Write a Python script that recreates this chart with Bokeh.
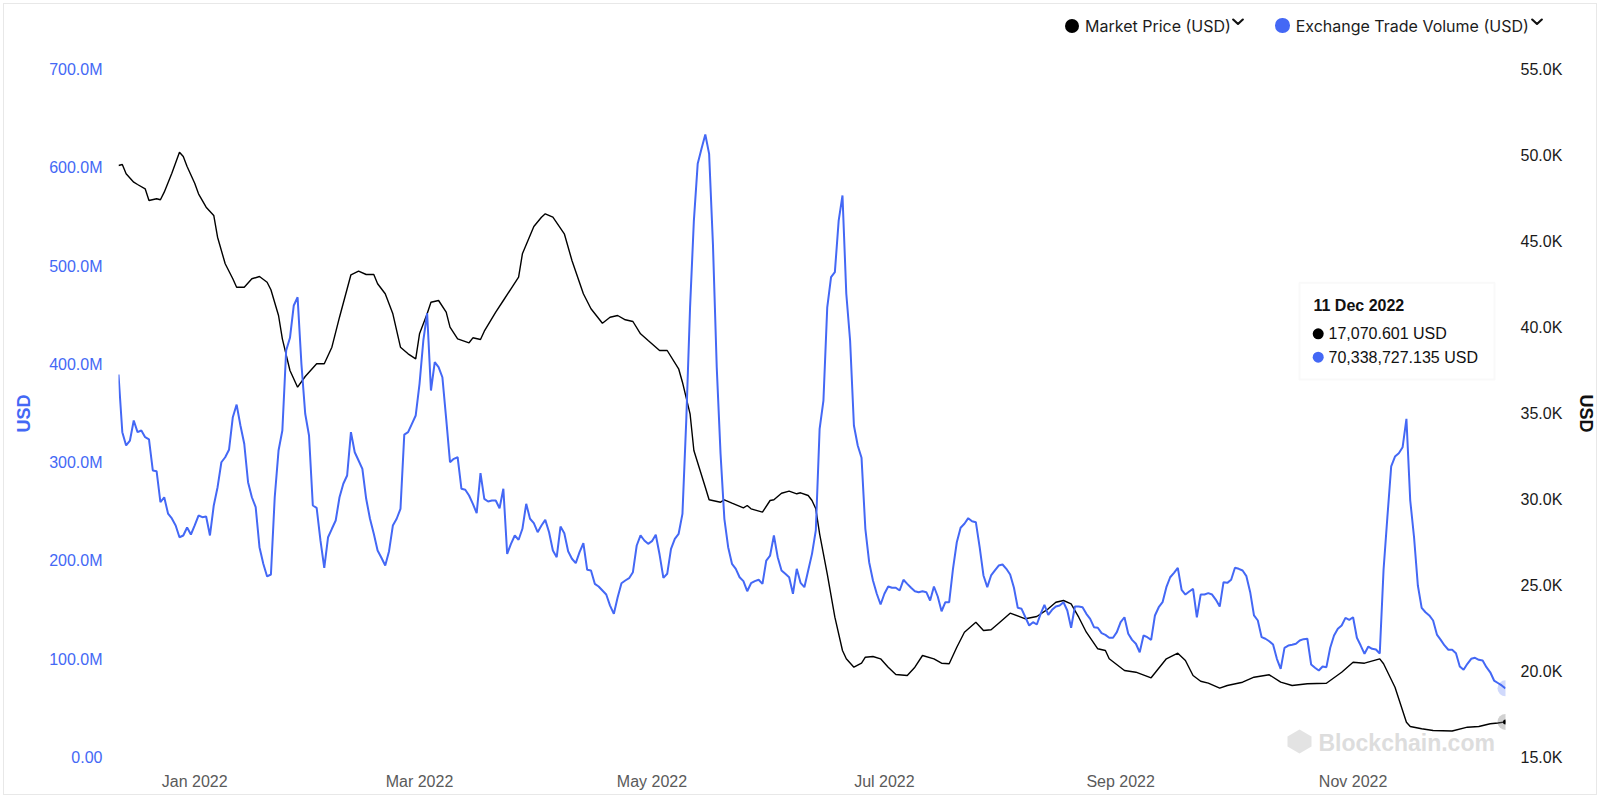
import math
import pandas as pd
from bokeh.plotting import figure
from bokeh.layouts import column
from bokeh.models import (Range1d, LinearAxis, FixedTicker, Label, BoxAnnotation,
                          PolyAnnotation, Div)
from bokeh.embed import file_html
from bokeh.resources import INLINE

# ---------------- data ----------------
start_date = "2021-12-12"

# Exchange Trade Volume (USD), millions, one value per day from start_date
volume_musd = [
    389.7, 331.0, 317.5, 322.5, 342.9, 331.0, 332.7, 325.9, 323.6, 292.1,
    291.3, 259.7, 264.8, 248.2, 243.2, 236.1, 224.1, 225.9, 234.0, 226.9,
    236.1, 246.2, 244.5, 245.2, 225.9, 256.4, 275.0, 300.4, 305.5, 313.1,
    346.2, 359.1, 337.8, 319.2, 280.1, 264.8, 254.7, 214.0, 197.1, 184.2,
    186.2, 264.8, 312.3, 332.7, 414.1, 427.0, 459.9, 468.3, 400.6, 349.7,
    327.6, 256.4, 254.0, 220.8, 193.0, 224.1, 232.7, 241.1, 264.8, 278.5,
    286.9, 331.0, 310.6, 302.2, 293.7, 263.2, 242.9, 227.6, 210.6, 203.2,
    195.3, 209.9, 236.0, 242.9, 253.0, 328.6, 331.0, 339.5, 348.0, 380.2,
    424.3, 452.0, 373.4, 402.2, 397.1, 386.9, 344.6, 300.4, 303.9, 305.5,
    273.4, 272.4, 266.6, 258.1, 248.6, 289.3, 263.2, 260.5, 261.5, 261.5,
    253.6, 273.4, 207.2, 217.4, 225.9, 221.5, 232.7, 258.1, 242.9, 238.4,
    229.2, 236.0, 241.8, 229.2, 210.6, 203.8, 235.0, 228.2, 209.9, 202.2,
    197.7, 208.9, 218.0, 191.0, 190.3, 176.7, 174.0, 169.9, 165.8, 154.6,
    146.2, 163.1, 177.3, 180.1, 182.4, 188.5, 215.7, 225.9, 220.8, 217.4,
    220.1, 226.6, 206.5, 182.8, 186.9, 212.3, 222.5, 227.6, 247.9, 342.9,
    458.1, 546.3, 604.0, 619.3, 633.8, 614.2, 522.6, 397.1, 309.0, 242.9,
    214.0, 197.1, 192.0, 183.4, 179.4, 169.2, 177.3, 179.4, 180.8, 176.7,
    200.4, 205.5, 225.9, 203.8, 190.3, 186.9, 183.4, 166.6, 192.0, 177.7,
    173.3, 190.3, 207.2, 231.0, 334.4, 363.2, 458.1, 488.7, 493.8, 546.3,
    571.8, 471.8, 424.3, 337.8, 317.4, 304.9, 232.7, 198.7, 180.1, 166.6,
    155.7, 166.6, 174.0, 172.7, 172.7, 169.9, 180.8, 176.7, 172.7, 169.2,
    168.2, 169.2, 168.2, 159.7, 174.0, 163.8, 148.8, 158.0, 158.0, 192.0,
    219.0, 233.7, 237.8, 243.5, 240.4, 239.4, 214.0, 185.2, 173.3, 185.2,
    190.3, 195.3, 196.4, 192.0, 186.2, 172.7, 152.3, 151.3, 142.7, 134.3,
    137.7, 135.3, 146.2, 155.4, 145.2, 150.3, 153.6, 154.6, 158.0, 149.6,
    132.0, 153.6, 153.6, 152.9, 146.2, 141.1, 132.6, 132.0, 126.5, 124.8,
    121.8, 121.8, 127.5, 137.7, 142.7, 125.9, 119.7, 115.7, 107.1, 124.1,
    122.4, 119.7, 144.5, 152.9, 158.0, 173.3, 183.4, 187.9, 193.0, 170.6,
    165.8, 168.9, 171.6, 142.7, 165.8, 165.8, 167.2, 165.8, 160.4, 153.6,
    178.4, 177.7, 180.8, 193.0, 192.0, 190.3, 184.5, 168.2, 144.5, 139.4,
    122.4, 120.8, 118.3, 115.0, 100.4, 90.2, 111.6, 113.9, 114.7, 115.7,
    119.0, 120.4, 120.8, 94.6, 91.3, 88.5, 92.6, 91.9, 111.6, 124.1,
    130.9, 134.3, 142.1, 140.1, 142.7, 121.8, 113.9, 105.5, 112.9, 110.6,
    109.9, 105.8, 191.3, 244.5, 296.1, 306.2, 309.6, 315.7, 344.6, 261.5,
    224.1, 175.0, 152.3, 147.8, 144.5, 139.4, 125.1, 119.7, 114.0, 109.6,
    109.6, 106.1, 92.6, 89.2, 95.3, 100.4, 101.4, 99.4, 98.7, 91.9,
    86.7, 78.3, 75.8, 73.3, 70.338727135,
]

# Market Price (USD): day offset from start_date and value
price_day = [
    0, 1, 2, 4, 5, 7, 8, 10, 11, 12, 14, 16, 17, 18, 20, 21, 23, 25, 26, 28,
    30, 31, 33, 35, 37, 39, 40, 42, 43, 45, 47, 49, 52, 54, 56, 58, 61, 63, 65, 67,
    68, 70, 72, 74, 76, 78, 79, 81, 82, 84, 86, 87, 89, 92, 93, 95, 96, 99, 101, 103,
    105, 106, 109, 111, 112, 114, 117, 119, 122, 124, 127, 129, 131, 133, 135, 137, 139, 142, 144, 147,
    148, 150, 151, 154, 155, 158, 159, 161, 164, 165, 166, 169, 171, 172, 174, 176, 178, 179, 181, 182,
    183, 184, 186, 188, 190, 191, 193, 195, 196, 198, 200, 202, 204, 207, 209, 211, 214, 216, 218, 220,
    222, 225, 227, 229, 231, 234, 238, 241, 244, 246, 248, 250, 252, 254, 257, 259, 260, 264, 267, 271,
    275, 278, 280, 282, 284, 286, 289, 291, 295, 298, 302, 305, 308, 312, 317, 321, 324, 327, 331, 332,
    335, 338, 339, 342, 345, 350, 354, 357, 360, 362, 364,
]
price_usd = [
    49419, 49477, 48936, 48448, 48314, 48064, 47384, 47483, 47425, 47867,
    48971, 50192, 49942, 49361, 48390, 47774, 46995, 46512, 45250, 43704,
    42832, 42343, 42343, 42832, 42965, 42634, 42192, 40698, 39343, 37500,
    36529, 37151, 37890, 37890, 38855, 40599, 43064, 43273, 43082, 43082,
    42541, 41960, 40797, 38855, 38471, 38180, 39634, 40797, 41471, 41570,
    40890, 40018, 39343, 39111, 39401, 39303, 39785, 40890, 41570, 42250,
    42925, 44285, 45872, 46413, 46611, 46413, 45448, 43896, 41960, 41087,
    40250, 40599, 40698, 40448, 40349, 39634, 39244, 38663, 38663, 37599,
    36820, 34983, 32849, 30715, 29983, 29843, 29983, 29785, 29518, 29651,
    29459, 29262, 29942, 29983, 30366, 30483, 30332, 30390, 30233, 29942,
    29459, 28006, 25680, 23157, 21221, 20738, 20250, 20483, 20831, 20872,
    20738, 20250, 19826, 19767, 20250, 20930, 20738, 20483, 20448, 21413,
    22285, 22866, 22384, 22424, 22808, 23390, 23064, 23198, 23645, 24029,
    24128, 23936, 23157, 22285, 21320, 21221, 20738, 20058, 19959, 19634,
    20738, 21064, 20640, 19767, 19436, 19320, 19029, 19186, 19378, 19669,
    19808, 19378, 19186, 19285, 19320, 19959, 20541, 20483, 20738, 20448,
    19087, 17052, 16802, 16669, 16570, 16540, 16762, 16802, 16959, 17006,
    17070.601,
]

series_names = ["Market Price (USD)", "Exchange Trade Volume (USD)"]
x_tick_dates = ["2022-01-01", "2022-03-01", "2022-05-01", "2022-07-01", "2022-09-01", "2022-11-01"]
x_tick_labels = ["Jan 2022", "Mar 2022", "May 2022", "Jul 2022", "Sep 2022", "Nov 2022"]
volume_ticks = [0, 100_000_000, 200_000_000, 300_000_000, 400_000_000, 500_000_000, 600_000_000, 700_000_000]
volume_tick_labels = ["0.00", "100.0M", "200.0M", "300.0M", "400.0M", "500.0M", "600.0M", "700.0M"]
price_ticks = [15000, 20000, 25000, 30000, 35000, 40000, 45000, 50000, 55000]
price_tick_labels = ["15.0K", "20.0K", "25.0K", "30.0K", "35.0K", "40.0K", "45.0K", "50.0K", "55.0K"]
axis_title = "USD"
watermark = "Blockchain.com"

# ---------------- derived ----------------
t0 = pd.Timestamp(start_date)
vol_dates = [t0 + pd.Timedelta(days=i) for i in range(len(volume_musd))]
vol_usd = [v * 1e6 for v in volume_musd]
price_dates = [t0 + pd.Timedelta(days=d) for d in price_day]

BLUE = "#4468F5"
BLACK = "#000000"

# page geometry (page px)
W = 1600
LEG_H = 50                 # top strip holding the series legend
MAIN_H = 798 - LEG_H
FL, FR = 118, 1505         # frame left / right
FT, FB = 69, 757           # frame top / bottom (page rows)

# ---------- legend strip (HTML, positioned in page px) ----------
LEG_Y = 25.7


def leg_dot(cx, d, color):
    return (f'<span style="position:absolute;left:{cx - d / 2:.1f}px;top:{LEG_Y - d / 2:.1f}px;'
            f'width:{d}px;height:{d}px;border-radius:50%;background:{color};"></span>')


def leg_text(x, s):
    return (f'<span style="position:absolute;left:{x}px;top:{LEG_Y - 10:.1f}px;line-height:20px;'
            f'white-space:nowrap;font-family:Inter,sans-serif;font-size:16px;color:#1c1c1c;">{s}</span>')


def leg_chevron(cx, cy):
    return (f'<svg style="position:absolute;left:{cx - 6:.1f}px;top:{cy - 4:.1f}px;" width="12" height="8" '
            f'viewBox="0 0 12 8"><path d="M1.2 1.5 L6 6 L10.8 1.5" stroke="#111" stroke-width="2.1" '
            f'fill="none" stroke-linecap="round" stroke-linejoin="round"/></svg>')


leg_html = (f'<div style="position:relative;width:{W}px;height:{LEG_H}px;">'
            + leg_dot(1071.7, 14, BLACK) + leg_text(1085, series_names[0]) + leg_chevron(1238, 22)
            + leg_dot(1282.3, 14.5, BLUE) + leg_text(1295.7, series_names[1]) + leg_chevron(1536.5, 22)
            + '</div>')
leg = Div(text=leg_html, width=W, height=LEG_H, margin=0,
          styles={"padding": "0", "margin": "0", "overflow": "visible"})

# ---------- main chart ----------
p = figure(width=W, height=MAIN_H, x_axis_type="datetime", output_backend="svg",
           toolbar_location=None, min_border_left=FL, min_border_right=W - FR,
           min_border_top=FT - LEG_H, min_border_bottom=798 - FB,
           x_range=Range1d(vol_dates[0], vol_dates[-1]),
           y_range=Range1d(volume_ticks[0], volume_ticks[-1]))
p.extra_y_ranges = {"price": Range1d(price_ticks[0], price_ticks[-1])}
p.outline_line_color = None
p.background_fill_color = None
p.border_fill_color = None
p.xgrid.visible = False
p.ygrid.visible = False

# lines
p.line(price_dates, price_usd, y_range_name="price", line_color=BLACK, line_width=1.4)
p.line(vol_dates, vol_usd, line_color=BLUE, line_width=2)

# end-point markers
p.scatter([vol_dates[-1]], [vol_usd[-1]], size=16, fill_color=BLUE, fill_alpha=0.25, line_color=None)
p.scatter([price_dates[-1]], [price_usd[-1]], y_range_name="price", size=16,
          fill_color="#7a7a7a", fill_alpha=0.35, line_color=None)
p.scatter([price_dates[-1]], [price_usd[-1]], y_range_name="price", size=5,
          fill_color=BLACK, line_color=None)


# axes
def style_axis(ax, color, size="16px"):
    ax.axis_line_color = None
    ax.major_tick_line_color = None
    ax.minor_tick_line_color = None
    ax.major_tick_out = 0
    ax.major_tick_in = 0
    ax.minor_tick_out = 0
    ax.minor_tick_in = 0
    ax.major_label_text_font = "Liberation Sans"
    ax.major_label_text_font_size = size
    ax.major_label_text_color = color


xa = p.xaxis[0]
style_axis(xa, "#5a5a5a")
x_tick_ms = [int(pd.Timestamp(d).timestamp() * 1000) for d in x_tick_dates]
xa.ticker = FixedTicker(ticks=x_tick_ms)
xa.major_label_overrides = {k: v for k, v in zip(x_tick_ms, x_tick_labels)}
xa.major_label_standoff = 15

ya = p.yaxis[0]
style_axis(ya, BLUE)
ya.ticker = FixedTicker(ticks=volume_ticks)
ya.major_label_overrides = {int(k): v for k, v in zip(volume_ticks, volume_tick_labels)}
ya.major_label_standoff = 16
ya.axis_label = axis_title
ya.axis_label_text_color = BLUE
ya.axis_label_text_font = "Liberation Sans"
ya.axis_label_text_font_style = "bold"
ya.axis_label_text_font_size = "18px"
ya.axis_label_standoff = 12

ra = LinearAxis(y_range_name="price")
style_axis(ra, "#1a1a1a")
ra.ticker = FixedTicker(ticks=price_ticks)
ra.major_label_overrides = {int(k): v for k, v in zip(price_ticks, price_tick_labels)}
ra.major_label_standoff = 15
ra.axis_label = axis_title
ra.axis_label_text_color = "#111111"
ra.axis_label_text_font = "Liberation Sans"
ra.axis_label_text_font_style = "bold"
ra.axis_label_text_font_size = "18px"
ra.axis_label_standoff = 11
p.add_layout(ra, "right")


# ---------- helpers for fixed-position decorations (page px -> frame px) ----------
def to_screen(cx, cy):
    return cx - FL, FB - cy


def dot(cx, cy, d, color):
    r = d / 2
    l, b = to_screen(cx - r, cy + r)
    rr, t = to_screen(cx + r, cy - r)
    p.add_layout(BoxAnnotation(left=l, right=rr, top=t, bottom=b,
                               left_units="screen", right_units="screen",
                               top_units="screen", bottom_units="screen",
                               fill_color=color, fill_alpha=1, line_color=None,
                               border_radius=int(math.ceil(r)), editable=False))


def poly(pts, color, level="annotation"):
    sp = [to_screen(x, y) for x, y in pts]
    p.add_layout(PolyAnnotation(xs=[a for a, _ in sp], ys=[b for _, b in sp],
                                xs_units="screen", ys_units="screen", level=level,
                                fill_color=color, fill_alpha=1, line_color=None))


def text(cx, cy, s, size, color, bold=False, font="Liberation Sans", level="annotation"):
    x, y = to_screen(cx, cy)
    p.add_layout(Label(x=x, y=y, x_units="screen", y_units="screen", text=s,
                       text_font=font, text_font_size=size, text_color=color,
                       text_font_style="bold" if bold else "normal",
                       text_align="left", text_baseline="middle", level=level))


# ---------- tooltip box ----------
l, b = to_screen(1299, 379)
r, t = to_screen(1494, 282.3)
p.add_layout(BoxAnnotation(left=l, right=r, top=t, bottom=b,
                           left_units="screen", right_units="screen",
                           top_units="screen", bottom_units="screen",
                           fill_color="white", fill_alpha=1, line_color="#ebebeb", line_width=2,
                           editable=False))
last_day = vol_dates[-1]
tip_title = f"{last_day.day} {last_day.strftime('%b %Y')}"
tip_price = f"{price_usd[-1]:,.3f} USD"
tip_vol = f"{vol_usd[-1]:,.3f} USD"
text(1313, 305, tip_title, "16px", "#111111", bold=True)
dot(1317.7, 333.3, 11, BLACK)
text(1328, 333.3, tip_price, "16px", "#111111")
dot(1317.7, 356.7, 11, BLUE)
text(1328, 356.7, tip_vol, "16px", "#111111")

# ---------- watermark ----------
poly([(1299, 729), (1311, 736), (1311, 746), (1299, 753), (1287, 746), (1287, 736)],
     "#e3e3e3", level="underlay")
text(1318, 742, watermark, "23px", "#dddddd", bold=True, level="underlay")

page = column(leg, p, spacing=0)
page.styles = {"outline": "1px solid #e8e8e8", "outline-offset": "-4px", "background-color": "white"}

open("out.html", "w").write(file_html(page, INLINE))
